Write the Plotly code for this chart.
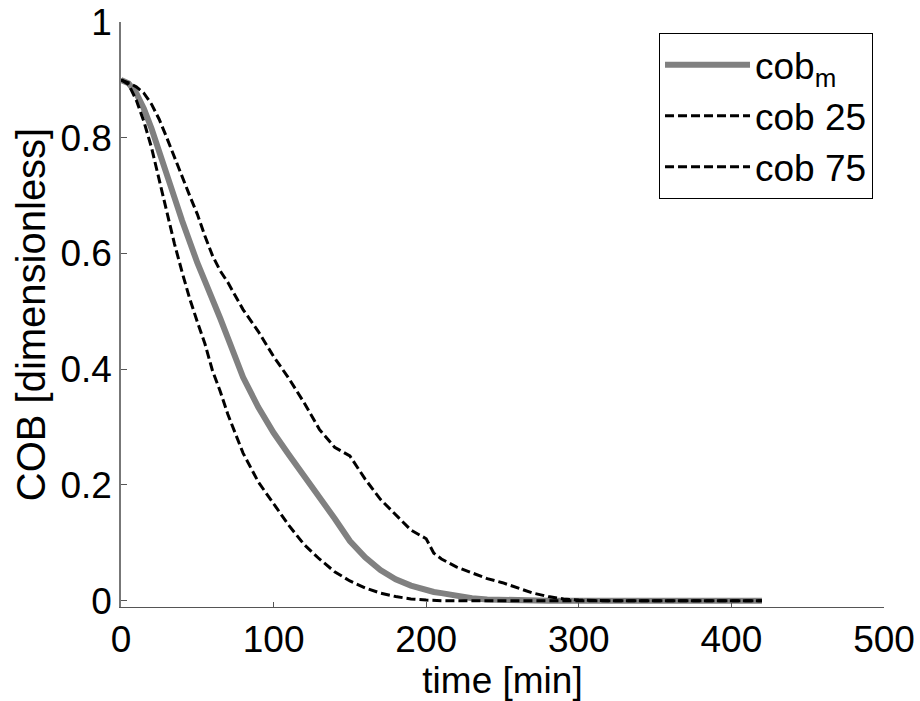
import plotly.graph_objects as go

# time grid [min]
time_min = [0, 5, 10, 15, 20, 25, 30, 35, 40, 45, 50, 55, 60, 65, 70, 75, 80,
            90, 100, 110, 120, 130, 140, 150, 160, 170, 180, 190, 200, 205,
            210, 220, 230, 240, 250, 260, 270, 280, 290, 300, 320, 350, 380, 420]

# median COB
cob_m = [0.9, 0.894, 0.877, 0.85, 0.816, 0.778, 0.742, 0.697, 0.657, 0.618, 0.584, 0.552, 0.522, 0.488, 0.454, 0.42, 0.386,
         0.334, 0.29, 0.252, 0.216, 0.182, 0.142, 0.103, 0.075, 0.053, 0.037, 0.026, 0.018, 0.015,
         0.013, 0.008, 0.004, 0.002, 0.001, 0, 0, 0, 0, 0, 0, 0, 0, 0]

# 25th percentile
cob_25 = [0.9, 0.892, 0.865, 0.828, 0.783, 0.727, 0.668, 0.617, 0.568, 0.522, 0.482, 0.444, 0.397, 0.362, 0.322, 0.287, 0.255,
          0.205, 0.168, 0.13, 0.097, 0.072, 0.05, 0.034, 0.022, 0.013, 0.007, 0.003, 0.001, 0,
          0, 0, 0, 0, 0, 0, 0, 0, 0, 0, 0, 0, 0, 0]

# 75th percentile
cob_75 = [0.9, 0.895, 0.888, 0.877, 0.858, 0.832, 0.8, 0.766, 0.732, 0.7, 0.668, 0.63, 0.596, 0.57, 0.55, 0.527, 0.503,
          0.465, 0.422, 0.384, 0.342, 0.296, 0.265, 0.25, 0.21, 0.175, 0.148, 0.122, 0.107, 0.082,
          0.072, 0.058, 0.048, 0.038, 0.031, 0.022, 0.013, 0.007, 0.003, 0.001, 0, 0, 0, 0]

x_ticks = [0, 100, 200, 300, 400, 500]
y_ticks = [0, 0.2, 0.4, 0.6, 0.8, 1]
y_tick_labels = ["0", "0.2", "0.4", "0.6", "0.8", "1"]

FONT = "Liberation Sans, Arial, sans-serif"
FS = 37

fig = go.Figure()
fig.add_trace(go.Scatter(x=time_min, y=cob_m, mode="lines", name="cob<sub>m</sub>",
                         line=dict(color="#808080", width=6)))
fig.add_trace(go.Scatter(x=time_min, y=cob_25, mode="lines", name="cob 25",
                         line=dict(color="black", width=3, dash="9px,4px")))
fig.add_trace(go.Scatter(x=time_min, y=cob_75, mode="lines", name="cob 75",
                         line=dict(color="black", width=3, dash="9px,4px")))

fig.update_layout(
    width=920, height=701,
    margin=dict(l=121, r=36, t=22, b=94, autoexpand=False),
    paper_bgcolor="white", plot_bgcolor="white",
    font=dict(family=FONT, size=FS, color="black"),
    showlegend=True,
    legend=dict(x=0.9856, y=0.981, xanchor="right", yanchor="top",
                bordercolor="black", borderwidth=1, bgcolor="white",
                font=dict(family=FONT, size=FS, color="black"),
                tracegroupgap=0, itemwidth=85),
    xaxis=dict(range=[0, 500], tickvals=x_ticks, ticks="inside", ticklen=5,
               tickcolor="#555555", showline=True, linecolor="#555555", linewidth=1,
               showgrid=False, zeroline=False, mirror=False,
               title=dict(text="time [min]", standoff=2, font=dict(size=FS)),
               tickfont=dict(size=FS)),
    yaxis=dict(range=[-0.011, 1], tickvals=y_ticks, ticktext=y_tick_labels,
               ticks="inside", ticklen=6, tickcolor="#555555",
               showline=True, linecolor="#777777", linewidth=1.5,
               showgrid=False, zeroline=False, mirror=False,
               title=dict(text="COB [dimensionless]", standoff=2, font=dict(size=40)),
               tickfont=dict(size=FS)),
)

fig.write_html("out.html")
